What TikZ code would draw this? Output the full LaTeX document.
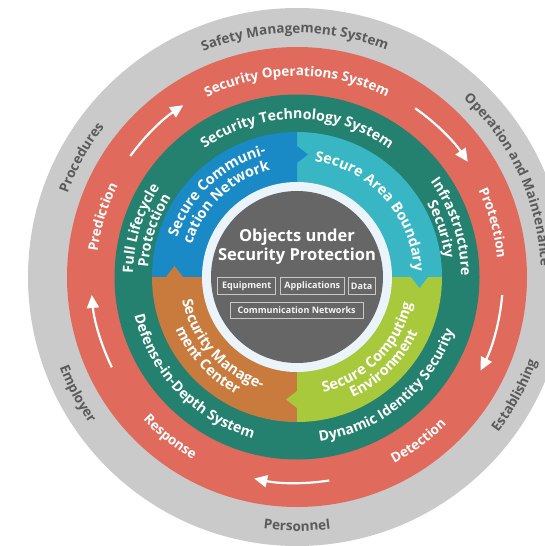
\documentclass[tikz,border=0pt]{standalone}
\usepackage{fontspec}
\setmainfont{Open Sans}
\usetikzlibrary{decorations.text,arrows.meta}
\definecolor{ringgray}{HTML}{CBCACB}
\definecolor{ringred}{HTML}{E06B5D}
\definecolor{ringgreen}{HTML}{24806F}
\definecolor{qblue}{HTML}{1A8AC6}
\definecolor{qcyan}{HTML}{38B6C4}
\definecolor{qlime}{HTML}{A9C93D}
\definecolor{qorange}{HTML}{C97B3D}
\definecolor{lightring}{HTML}{EBF4FB}
\definecolor{coregray}{HTML}{666666}
\definecolor{graytext}{HTML}{5A5A5A}
\definecolor{boxline}{HTML}{C8C8C8}
\newcommand\rfont{\bfseries\fontsize{13.5}{15}\selectfont}
% top-style (clockwise) text: [colour]{baseline radius}{centre angle}{text}
\newcommand\toptext[4][white]{%
  \path[decorate,decoration={text along path,text={|\rfont\color{#1}|#4},text align=center}]
    ({#3+85}:#2pt) arc[start angle={#3+85}, end angle={#3-85}, radius=#2pt];}
% bottom-style (counter-clockwise) text
\newcommand\bottext[4][white]{%
  \path[decorate,decoration={text along path,text={|\rfont\color{#1}|#4},text align=center}]
    ({#3-85}:#2pt) arc[start angle={#3-85}, end angle={#3+85}, radius=#2pt];}
\tikzset{
  objbox/.style={draw=boxline, line width=0.8pt, text=white!92!gray,
    font=\bfseries\fontsize{9}{10}\selectfont, minimum height=16.6pt, inner sep=0pt},
  cyclearrow/.style={white, line width=2.2pt, -{Triangle[length=13pt,width=12pt]}}
}
\begin{document}
\begin{tikzpicture}
\useasboundingbox (0,0) rectangle (544pt,-546pt);
\fill[white] (0,0) rectangle (544pt,-546pt);
\begin{scope}[shift={(297pt,-277pt)}]
  \fill[ringgray] (0,0) circle (269pt);
  \fill[ringred] (0,0) circle (230pt);
  \fill[ringgreen] (0,0) circle (182.5pt);
  \fill[qcyan] (0,0) -- (0:145pt) arc[start angle=0,end angle=90,radius=145pt] -- cycle;
  \fill[qblue] (0,0) -- (90:145pt) arc[start angle=90,end angle=180,radius=145pt] -- cycle;
  \fill[qorange] (0,0) -- (180:145pt) arc[start angle=180,end angle=270,radius=145pt] -- cycle;
  \fill[qlime] (0,0) -- (270:145pt) arc[start angle=270,end angle=360,radius=145pt] -- cycle;
  \foreach \ang/\col in {90/qblue, 0/qcyan, 270/qlime, 180/qorange}
    \fill[\col, rotate=\ang] (114pt,0.5pt) -- (114pt,0pt) -- (122.5pt,-11pt) -- (131pt,0pt) -- (131pt,0.5pt) -- cycle;
  \fill[lightring] (0,0) circle (95pt);
  \fill[coregray] (0,0) circle (86pt);

  % arrows in the red ring
  \draw[cyclearrow] (144:206pt) arc[start angle=144, end angle=123.5, radius=206pt];
  \draw[cyclearrow] (55:206pt) arc[start angle=55, end angle=34, radius=206pt];
  \draw[cyclearrow] (-5:206pt) arc[start angle=-5, end angle=-27, radius=206pt];
  \draw[cyclearrow] (279:206pt) arc[start angle=279, end angle=258, radius=206pt];
  \draw[cyclearrow] (206:206pt) arc[start angle=206, end angle=185, radius=206pt];

  % gray ring
  \toptext[graytext]{244}{90.5}{Safety Management System}
  \path[decorate,decoration={text along path,text={|\rfont\color{graytext}|Operation and Maintenance}}]
    (47:244pt) arc[start angle=47, end angle=-60, radius=244pt];
  \toptext[graytext]{244}{151}{Procedures}
  \bottext[graytext]{254}{208}{Employer}
  \bottext[graytext]{254}{270}{Personnel}
  \bottext[graytext]{254}{331.5}{Establishing}

  % red ring
  \toptext{201}{90}{Security Operations System}
  \toptext{201}{15.4}{Protection}
  \toptext{201}{162.8}{Prediction}
  \bottext{210}{231.6}{Response}
  \bottext{210}{306.5}{Detection}

  % green ring
  \renewcommand\rfont{\bfseries\fontsize{14.2}{16}\selectfont}
  \toptext{158}{90}{Security Technology System}
  \toptext{164}{162.7}{Full Lifecycle}
  \toptext{149}{162}{Protection}
  \toptext{164}{18}{Infrastructure}
  \toptext{149}{18.3}{Security}
  \bottext{167}{224}{Defense-in-Depth System}
  \bottext{166}{309.5}{Dynamic Identity Security}

  % quadrants
  \renewcommand\rfont{\bfseries\fontsize{14.5}{16}\selectfont}
  \toptext{126}{133}{Secure Communi-}
  \toptext{110}{133.5}{cation Network}
  \toptext{117}{42}{Secure Area Boundary}
  \bottext{117}{222}{Security Manage-}
  \bottext{132}{223}{ment Center}
  \bottext{118}{315}{Secure Computing}
  \bottext{133}{315}{Environment}
\end{scope}

\node[white, font=\bfseries\fontsize{16.5}{19}\selectfont, align=center] (title) at (297pt,-247pt) {Objects under\\Security Protection};
\node[objbox, minimum width=58pt] (equip) at (246.7pt,-286pt) {Equipment};
\node[objbox, minimum width=64.6pt] (apps) at (312.3pt,-286pt) {Applications};
\node[objbox, minimum width=27.4pt] (data) at (361.7pt,-286pt) {Data};
\node[objbox, minimum width=133.3pt] (comm) at (296.7pt,-310.5pt) {Communication Networks};
\end{tikzpicture}
\end{document}
